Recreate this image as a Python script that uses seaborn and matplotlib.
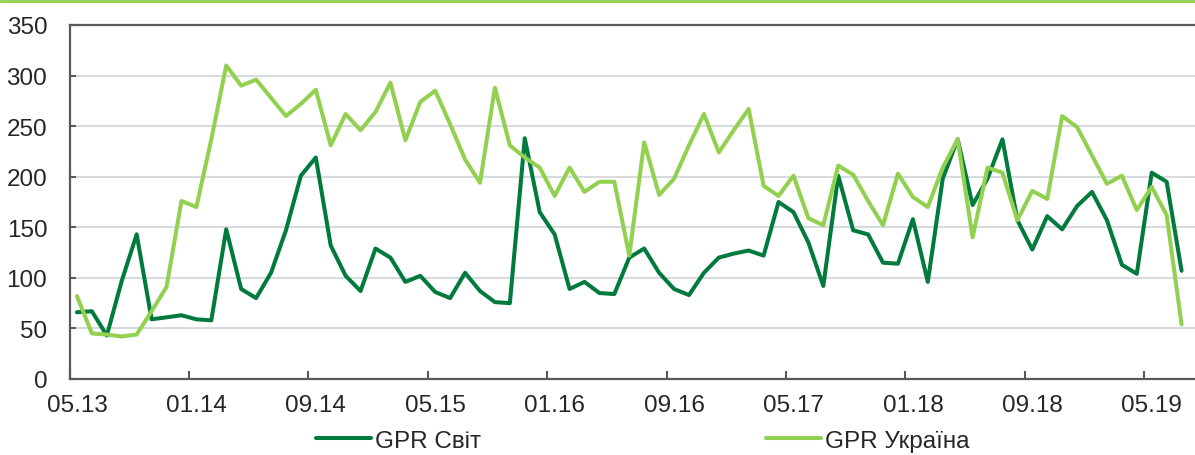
import seaborn as sns
import matplotlib.pyplot as plt
from matplotlib.lines import Line2D
import numpy as np
import pandas as pd

# monthly index values, 05.2013 .. 07.2019
gpr_world = [66, 67, 43, 97, 143, 59, 61, 63, 59, 58,
             148, 89, 80, 105, 147, 201, 219, 132, 102, 87,
             129, 120, 96, 102, 86, 80, 105, 87, 76, 75,
             238, 165, 143, 89, 96, 85, 84, 120, 129, 105,
             89, 83, 105, 120, 124, 127, 122, 175, 165, 135,
             92, 201, 147, 143, 115, 114, 158, 96, 198, 237,
             172, 198, 237, 157, 128, 161, 148, 171, 185, 157,
             113, 104, 204, 195, 107]
gpr_ukraine = [82, 45, 44, 42, 44, 67, 91, 176, 170, 237,
               310, 290, 296, 278, 260, 272, 286, 231, 262, 246,
               264, 293, 236, 274, 285, 252, 217, 194, 288, 231,
               219, 209, 181, 209, 185, 195, 195, 122, 234, 182,
               198, 231, 262, 224, 246, 267, 191, 181, 201, 159,
               152, 211, 202, 176, 152, 203, 180, 170, 209, 237,
               140, 209, 204, 157, 186, 178, 260, 249, 221, 193,
               201, 167, 190, 162, 54]
series_names = ['GPR Світ', 'GPR Україна']
series_colors = ['#007A3D', '#92D050']
tick_labels = ['05.13', '01.14', '09.14', '05.15', '01.16',
               '09.16', '05.17', '01.18', '09.18', '05.19']

months = pd.date_range('2013-05-01', periods=len(gpr_world), freq='MS')
df = pd.DataFrame({
    'idx': np.concatenate([np.arange(len(months))] * 2),
    'value': gpr_world + gpr_ukraine,
    'series': [series_names[0]] * len(gpr_world) + [series_names[1]] * len(gpr_ukraine),
})

sns.set_style('white')
plt.rcParams['font.family'] = ['Liberation Sans', 'DejaVu Sans']

fig = plt.figure(figsize=(11.95, 4.56), dpi=100)
ax = fig.add_axes([69.5 / 1195, 76 / 456, 1 - 69.5 / 1195, 354 / 456])

sns.lineplot(data=df, x='idx', y='value', hue='series', hue_order=series_names,
             palette=series_colors, linewidth=2.9, ax=ax, legend=True)
handles, labels = ax.get_legend_handles_labels()
ax.get_legend().remove()

ax.set_xlim(-0.5, 74.9)
ax.set_ylim(0, 350)
ax.set_yticks(np.arange(0, 351, 50))
ax.yaxis.grid(True, color='#D0D4D9', linewidth=1.2)
ax.set_axisbelow(True)

# labels sit on the month, tick marks sit between months
step = 8
label_pos = np.arange(0, len(months), step)[:len(tick_labels)]
ax.set_xticks(label_pos)
ax.set_xticklabels(tick_labels)
ax.set_xticks(np.arange(-0.5, len(months), step), minor=True)
ax.tick_params(axis='x', which='major', length=0, pad=11, labelsize=17.5)
ax.tick_params(axis='x', which='minor', length=6, width=1.5, direction='in',
               color='#595959', bottom=True)
ax.tick_params(axis='y', length=4.5, width=1.5, direction='in', color='#595959',
               pad=16, labelsize=17.5, left=True)
ax.set_xlabel('')
ax.set_ylabel('')

for side in ['left', 'bottom', 'top']:
    ax.spines[side].set_color('#595959')
    ax.spines[side].set_linewidth(1.6)
ax.spines['right'].set_visible(False)

fig.add_artist(Line2D([0, 1], [1 - 1.5 / 456, 1 - 1.5 / 456], color='#92D050', lw=2))

fig.legend(handles, labels, loc='center', bbox_to_anchor=(0.538, 0.031), ncol=2,
           frameon=False, fontsize=17.5, handlelength=2.25, handletextpad=0.2,
           columnspacing=11.7, borderpad=0)

plt.savefig('out.png', dpi=100)
